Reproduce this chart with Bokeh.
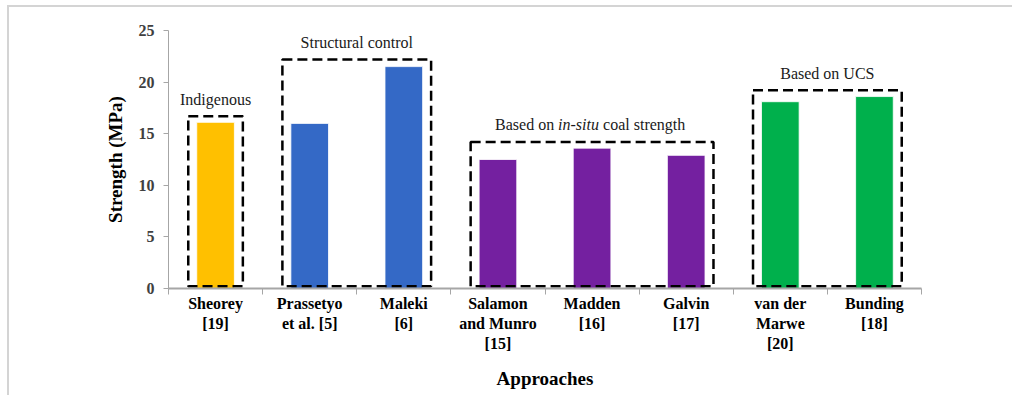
from bokeh.plotting import figure
from bokeh.models import Range1d, FixedTicker, CustomJSTickFormatter
from bokeh.core.properties import value
from bokeh.embed import file_html
from bokeh.resources import INLINE

# ---- data ----
approaches = ["Sheorey\n[19]", "Prassetyo\net al. [5]", "Maleki\n[6]",
              "Salamon\nand Munro\n[15]", "Madden\n[16]", "Galvin\n[17]",
              "van der\nMarwe\n[20]", "Bunding\n[18]"]
strength = [16.1, 16.0, 21.5, 12.5, 13.6, 12.9, 18.1, 18.6]
bar_colors = ["#FFC000", "#3469C6", "#3469C6", "#7420A0",
              "#7420A0", "#7420A0", "#00B04C", "#00B04C"]

group_names = ["Indigenous", "Structural control", "Based on in-situ coal strength", "Based on UCS"]
group_first = [0, 1, 3, 6]
group_last = [0, 2, 5, 7]
group_box_top = [16.7, 22.2, 14.2, 19.2]
y_ticks = [0, 5, 10, 15, 20, 25]

SERIF = "Liberation Serif"

n = len(approaches)
centers = [i + 0.5 for i in range(n)]

p = figure(width=1005, height=390, output_backend="svg", toolbar_location=None,
           x_range=Range1d(0, n), y_range=Range1d(0, 25),
           min_border_left=159, min_border_right=93, min_border_top=23, min_border_bottom=109)
p.outline_line_color = None
p.xgrid.visible = False
p.ygrid.visible = False
p.background_fill_color = "white"
p.border_fill_color = "white"
p.styles = {"margin-left": "7px", "margin-top": "5px",
            "border-top": "2px solid #d4d4d4", "border-left": "2px solid #d4d4d4"}

# bars
p.vbar(x=centers, top=strength, width=0.4, fill_color=bar_colors, line_color="white", line_width=0.8)

# dashed group boxes
lefts = [group_first[g] + 0.5 - 0.29 for g in range(len(group_names))]
rights = [group_last[g] + 0.5 + 0.29 for g in range(len(group_names))]
bottoms = [0.22] * len(group_names)
p.quad(left=lefts, right=rights, bottom=bottoms, top=group_box_top,
       fill_alpha=0, line_color="black", line_width=2.5, line_dash="10 5")

# group labels
mids = [(group_first[g] + group_last[g]) / 2 + 0.5 for g in range(len(group_names))]
plain = [0, 1, 3]
p.text(x=[mids[g] for g in plain], y=[group_box_top[g] for g in plain],
       text=[group_names[g] for g in plain], text_align="center", text_baseline="middle",
       y_offset=-17, text_font=value(SERIF), text_font_size="16px", text_color="#1a1a1a")

# in-situ label in three pieces
g = 2
parts = ["Based on", "in-situ", "coal strength"]
offs = [-97, -34, 11]
styles = ["normal", "italic", "normal"]
for t, o, s in zip(parts, offs, styles):
    p.text(x=[mids[g]], y=[group_box_top[g]], text=[t], text_align="left", text_baseline="middle",
           x_offset=o, y_offset=-17, text_font=value(SERIF), text_font_size="16px",
           text_font_style=s, text_color="#1a1a1a")

# x axis
xa = p.xaxis[0]
xa.ticker = FixedTicker(ticks=centers, minor_ticks=list(range(n + 1)))
xa.formatter = CustomJSTickFormatter(args=dict(labels=approaches),
                                     code="const i = Math.floor(tick); return (i >= 0 && i < labels.length) ? labels[i] : '';")
xa.major_tick_out = 0
xa.major_tick_in = 0
xa.minor_tick_out = 6
xa.minor_tick_in = 0
xa.minor_tick_line_color = "#a6a6a6"
xa.axis_line_color = "#a6a6a6"
xa.axis_line_width = 2
xa.major_label_text_font = SERIF
xa.major_label_text_font_style = "bold"
xa.major_label_text_font_size = "16px"
xa.major_label_text_color = "black"
xa.major_label_standoff = 0
xa.axis_label = "Approaches"
xa.axis_label_text_font = SERIF
xa.axis_label_text_font_style = "bold"
xa.axis_label_text_font_size = "19px"
xa.axis_label_text_color = "black"
xa.axis_label_standoff = 13

# y axis
ya = p.yaxis[0]
ya.ticker = FixedTicker(ticks=y_ticks, minor_ticks=[])
ya.major_tick_out = 5
ya.major_tick_in = 0
ya.major_tick_line_color = "#a6a6a6"
ya.axis_line_color = "#a6a6a6"
ya.axis_line_width = 1
ya.major_label_text_font = SERIF
ya.major_label_text_font_style = "bold"
ya.major_label_text_font_size = "16px"
ya.major_label_text_color = "#404040"
ya.major_label_standoff = 9
ya.axis_label = "Strength (MPa)"
ya.axis_label_text_font = SERIF
ya.axis_label_text_font_style = "bold"
ya.axis_label_text_font_size = "19px"
ya.axis_label_text_color = "black"
ya.axis_label_standoff = 10

open("out.html", "w").write(file_html(p, INLINE))
